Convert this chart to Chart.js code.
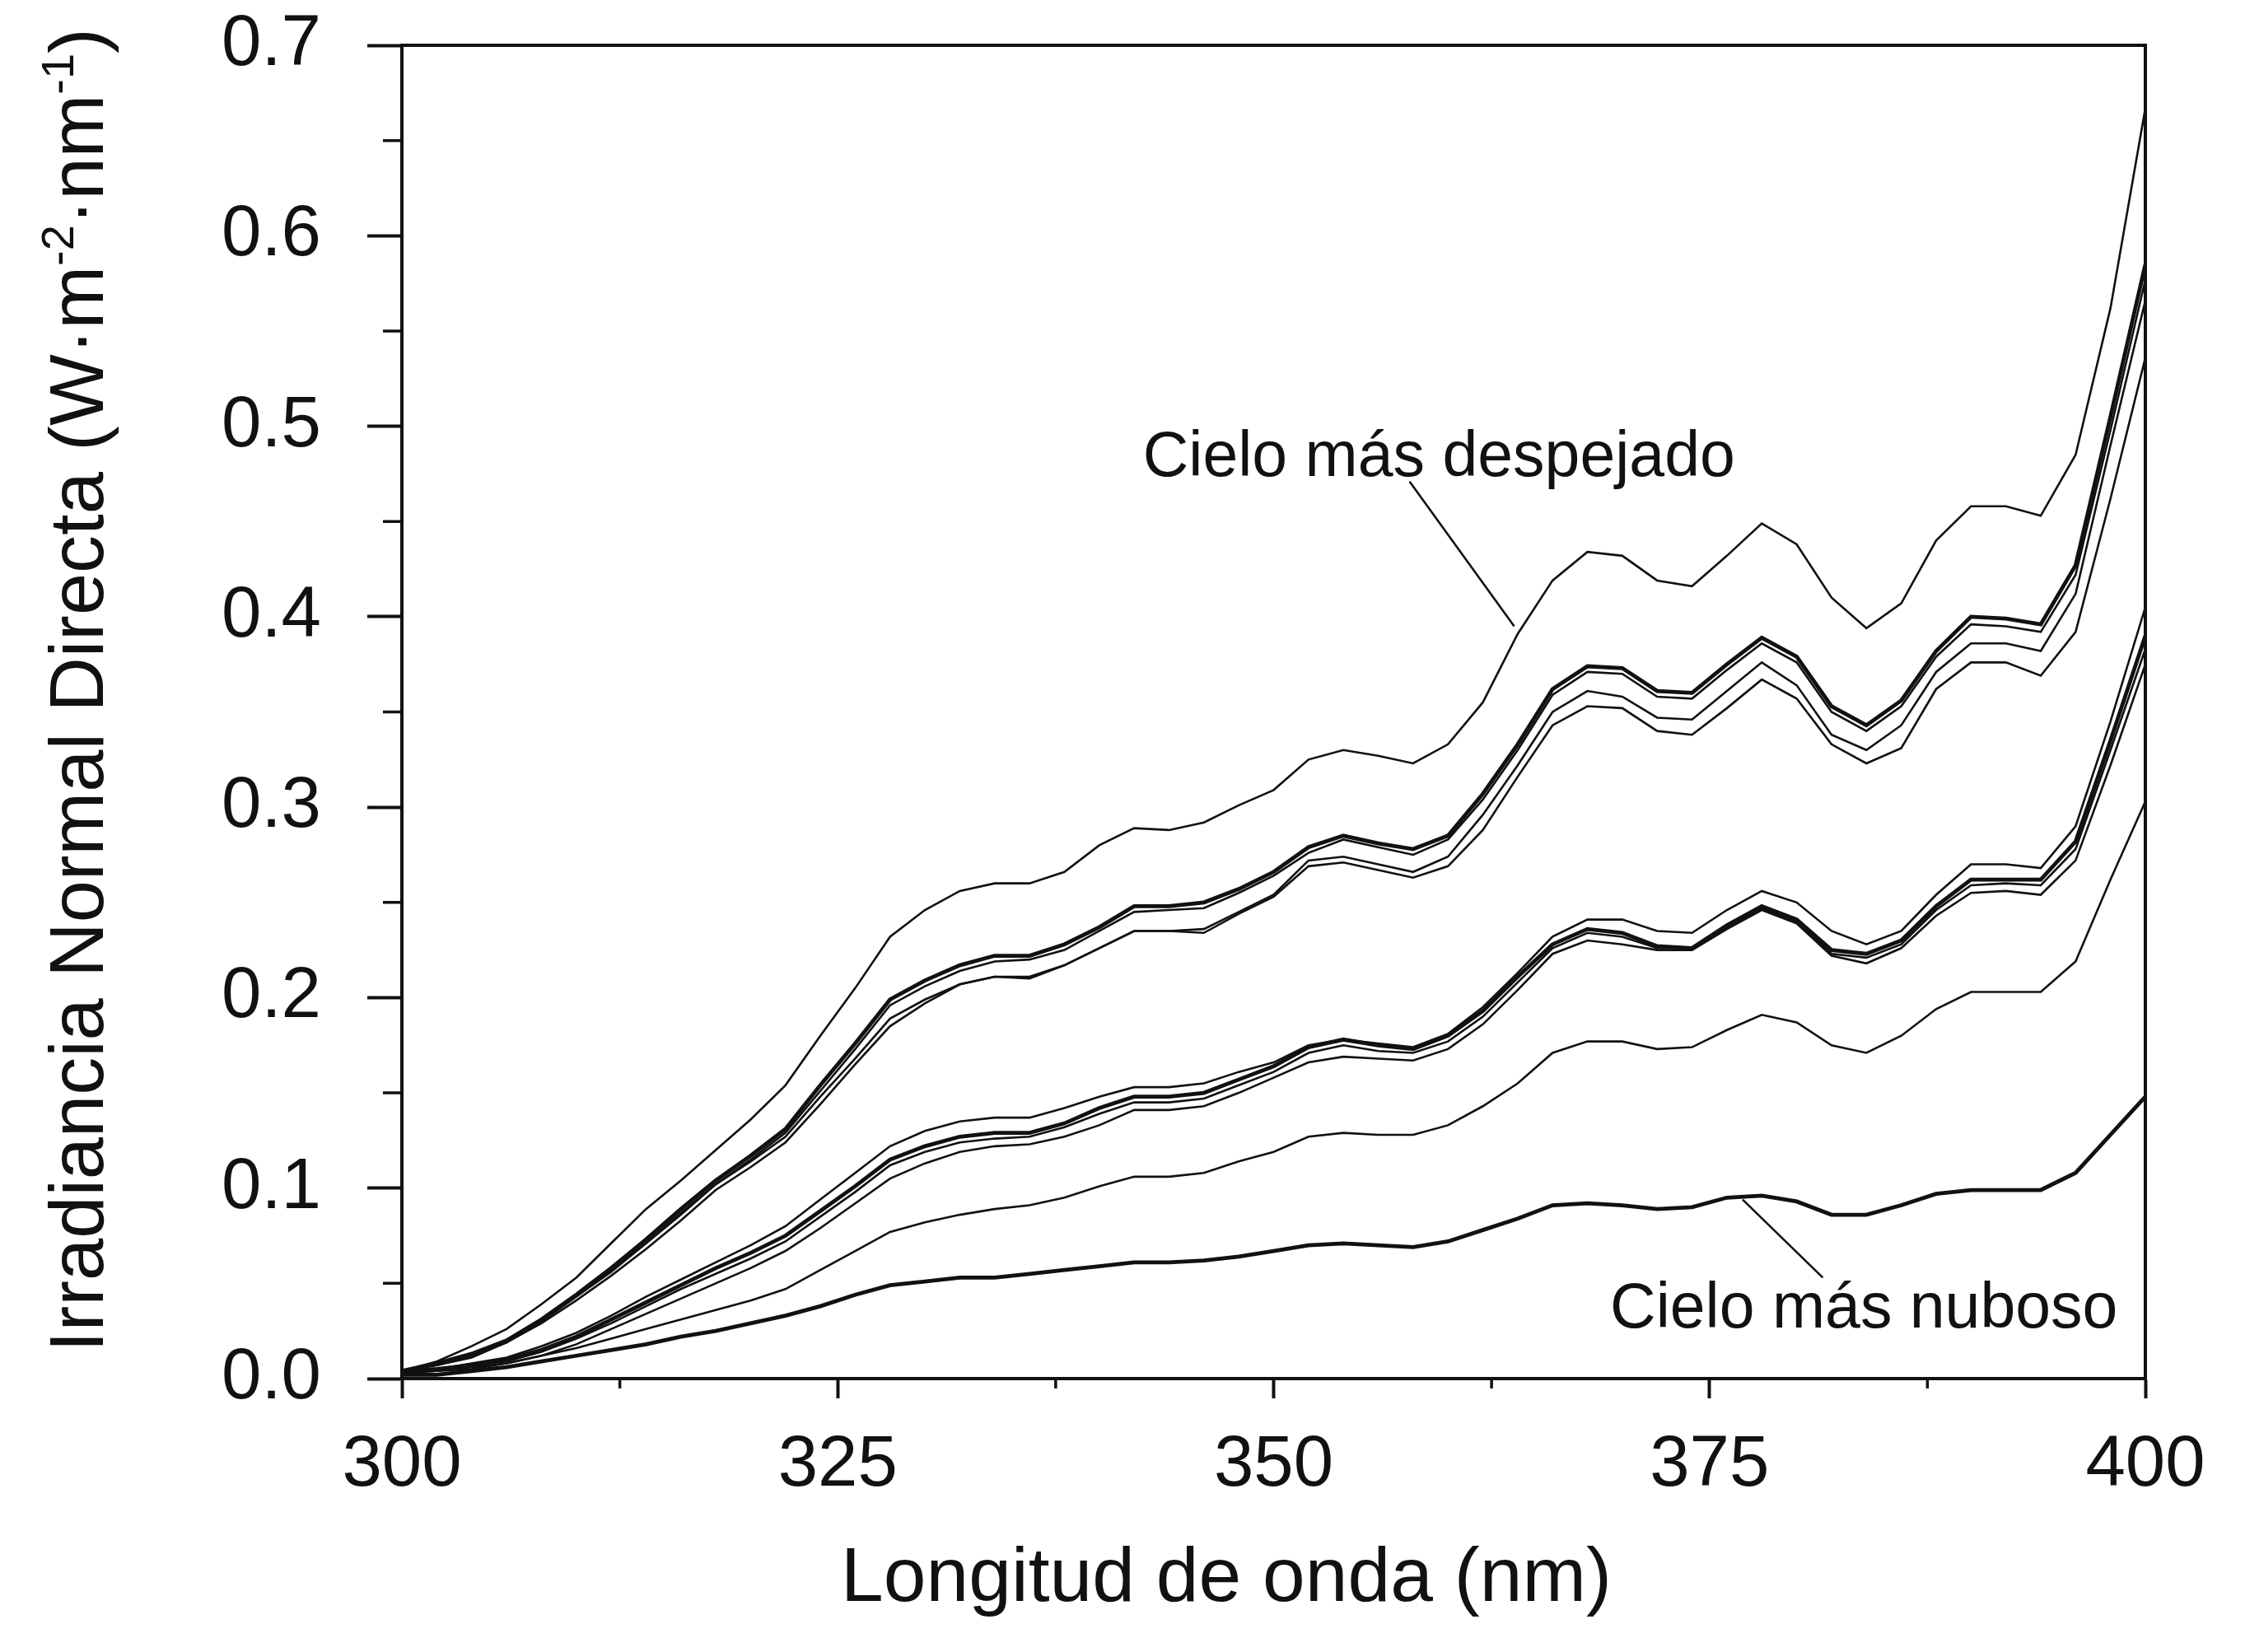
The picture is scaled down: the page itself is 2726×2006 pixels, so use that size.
<!DOCTYPE html>
<html>
<head>
<meta charset="utf-8">
<title>Irradiancia Normal Directa</title>
<script src="https://cdn.jsdelivr.net/npm/chart.js@4.4.0/dist/chart.umd.min.js"></script>
<style>
    html, body { margin: 0; padding: 0; background: #ffffff; }
    #wrap { width: 2726px; height: 2006px; }
</style>
</head>
<body>
<div id="wrap"><canvas id="chart" width="2726" height="2006"></canvas></div>
<script>
    'use strict';

    // ----------------------------
    // Data
    // ----------------------------

    // wavelength grid, nm
    var wavelengths = [
        300, 302, 304, 306, 308, 310, 312, 314, 316, 318,
        320, 322, 324, 326, 328, 330, 332, 334, 336, 338,
        340, 342, 344, 346, 348, 350, 352, 354, 356, 358,
        360, 362, 364, 366, 368, 370, 372, 374, 376, 378,
        380, 382, 384, 386, 388, 390, 392, 394, 396, 398,
        400
    ];

    // "Cielo más despejado"
    var skyClearest = [
        0.004, 0.009, 0.017, 0.026, 0.039, 0.053, 0.071, 0.089, 0.104, 0.120,
        0.136, 0.154, 0.180, 0.205, 0.232, 0.246, 0.256, 0.260, 0.260, 0.266,
        0.280, 0.289, 0.288, 0.292, 0.301, 0.309, 0.325, 0.330, 0.327, 0.323,
        0.333, 0.355, 0.391, 0.419, 0.434, 0.432, 0.419, 0.416, 0.432, 0.449,
        0.438, 0.410, 0.394, 0.407, 0.440, 0.458, 0.458, 0.453, 0.485, 0.562,
        0.667
    ];

    // upper bundle
    var skyHigh1 = [
        0.004, 0.008, 0.013, 0.020, 0.031, 0.044, 0.058, 0.073, 0.089, 0.104,
        0.117, 0.131, 0.154, 0.176, 0.199, 0.209, 0.217, 0.222, 0.222, 0.228,
        0.237, 0.248, 0.248, 0.250, 0.257, 0.266, 0.279, 0.285, 0.281, 0.278,
        0.285, 0.307, 0.333, 0.362, 0.374, 0.373, 0.361, 0.360, 0.375, 0.389,
        0.379, 0.353, 0.343, 0.356, 0.382, 0.400, 0.399, 0.396, 0.427, 0.505,
        0.585
    ];
    var skyHigh2 = [
        0.004, 0.008, 0.012, 0.019, 0.030, 0.043, 0.057, 0.071, 0.087, 0.102,
        0.115, 0.129, 0.151, 0.173, 0.196, 0.206, 0.214, 0.219, 0.220, 0.225,
        0.235, 0.245, 0.246, 0.247, 0.255, 0.264, 0.276, 0.283, 0.279, 0.275,
        0.283, 0.304, 0.330, 0.359, 0.371, 0.370, 0.358, 0.357, 0.372, 0.386,
        0.376, 0.350, 0.340, 0.353, 0.379, 0.396, 0.395, 0.392, 0.422, 0.498,
        0.577
    ];
    var skyHigh3 = [
        0.004, 0.007, 0.012, 0.019, 0.030, 0.043, 0.056, 0.071, 0.086, 0.102,
        0.114, 0.127, 0.148, 0.168, 0.189, 0.199, 0.207, 0.211, 0.211, 0.217,
        0.226, 0.235, 0.235, 0.236, 0.245, 0.254, 0.272, 0.274, 0.270, 0.266,
        0.274, 0.296, 0.322, 0.350, 0.361, 0.358, 0.347, 0.346, 0.361, 0.376,
        0.364, 0.338, 0.330, 0.343, 0.371, 0.386, 0.386, 0.382, 0.412, 0.490,
        0.566
    ];
    var skyHigh4 = [
        0.004, 0.007, 0.011, 0.019, 0.029, 0.041, 0.054, 0.068, 0.083, 0.099,
        0.111, 0.124, 0.144, 0.165, 0.185, 0.197, 0.207, 0.211, 0.210, 0.217,
        0.226, 0.235, 0.235, 0.234, 0.244, 0.253, 0.269, 0.271, 0.267, 0.263,
        0.269, 0.288, 0.316, 0.343, 0.353, 0.352, 0.340, 0.338, 0.352, 0.367,
        0.357, 0.333, 0.323, 0.331, 0.362, 0.376, 0.376, 0.369, 0.392, 0.462,
        0.536
    ];

    // middle bundle
    var skyMid1 = [
        0.004, 0.005, 0.008, 0.011, 0.017, 0.024, 0.033, 0.043, 0.052, 0.061,
        0.070, 0.080, 0.094, 0.108, 0.122, 0.130, 0.135, 0.137, 0.137, 0.142,
        0.148, 0.153, 0.153, 0.155, 0.161, 0.166, 0.175, 0.178, 0.176, 0.174,
        0.181, 0.195, 0.213, 0.232, 0.241, 0.241, 0.235, 0.234, 0.246, 0.256,
        0.250, 0.235, 0.228, 0.235, 0.254, 0.270, 0.270, 0.268, 0.290, 0.345,
        0.405
    ];
    var skyMid2 = [
        0.004, 0.005, 0.007, 0.010, 0.015, 0.022, 0.031, 0.040, 0.049, 0.058,
        0.066, 0.075, 0.088, 0.101, 0.115, 0.122, 0.127, 0.129, 0.129, 0.134,
        0.142, 0.148, 0.148, 0.150, 0.157, 0.164, 0.174, 0.178, 0.175, 0.173,
        0.180, 0.193, 0.211, 0.228, 0.236, 0.234, 0.227, 0.226, 0.238, 0.248,
        0.241, 0.225, 0.223, 0.230, 0.248, 0.262, 0.262, 0.262, 0.282, 0.335,
        0.390
    ];
    var skyMid3 = [
        0.004, 0.005, 0.007, 0.009, 0.014, 0.021, 0.029, 0.038, 0.047, 0.055,
        0.063, 0.072, 0.085, 0.098, 0.112, 0.119, 0.124, 0.126, 0.127, 0.132,
        0.139, 0.145, 0.145, 0.147, 0.154, 0.161, 0.171, 0.175, 0.172, 0.171,
        0.177, 0.190, 0.208, 0.226, 0.234, 0.232, 0.226, 0.226, 0.237, 0.247,
        0.240, 0.223, 0.221, 0.228, 0.246, 0.259, 0.260, 0.259, 0.278, 0.330,
        0.383
    ];
    var skyMid4 = [
        0.003, 0.004, 0.006, 0.008, 0.012, 0.018, 0.026, 0.034, 0.042, 0.050,
        0.058, 0.067, 0.079, 0.092, 0.105, 0.113, 0.119, 0.122, 0.123, 0.127,
        0.133, 0.141, 0.141, 0.143, 0.150, 0.158, 0.166, 0.169, 0.168, 0.167,
        0.173, 0.186, 0.204, 0.223, 0.230, 0.228, 0.225, 0.225, 0.236, 0.246,
        0.239, 0.222, 0.218, 0.226, 0.243, 0.255, 0.256, 0.254, 0.272, 0.322,
        0.375
    ];

    var skyLow = [
        0.003, 0.004, 0.005, 0.008, 0.012, 0.016, 0.021, 0.026, 0.031, 0.036,
        0.041, 0.047, 0.057, 0.067, 0.077, 0.082, 0.086, 0.089, 0.091, 0.095,
        0.101, 0.106, 0.106, 0.108, 0.114, 0.119, 0.127, 0.129, 0.128, 0.128,
        0.133, 0.143, 0.155, 0.171, 0.177, 0.177, 0.173, 0.174, 0.183, 0.191,
        0.187, 0.175, 0.171, 0.180, 0.194, 0.203, 0.203, 0.203, 0.219, 0.262,
        0.303
    ];

    // "Cielo más nuboso"
    var skyCloudiest = [
        0.002, 0.002, 0.004, 0.006, 0.009, 0.012, 0.015, 0.018, 0.022, 0.025,
        0.029, 0.033, 0.038, 0.044, 0.049, 0.051, 0.053, 0.053, 0.055, 0.057,
        0.059, 0.061, 0.061, 0.062, 0.064, 0.067, 0.070, 0.071, 0.070, 0.069,
        0.072, 0.078, 0.084, 0.091, 0.092, 0.091, 0.089, 0.090, 0.095, 0.096,
        0.093, 0.086, 0.086, 0.091, 0.097, 0.099, 0.099, 0.099, 0.108, 0.128,
        0.148
    ];

    // minor tick positions (no labels)
    var xMinorTicks = [312.5, 337.5, 362.5, 387.5];
    var yMinorTicks = [0.05, 0.15, 0.25, 0.35, 0.45, 0.55, 0.65];

    // ----------------------------
    // Styling
    // ----------------------------

    var INK = '#111111';
    var FONT = '"Liberation Sans", Arial, Helvetica, sans-serif';
    var THIN = 2.6;
    var THICK = 4.8;

    // annotations, anchored in data units
    var notes = [
        { text: 'Cielo más despejado', at: [342.5, 0.474], from: [357.8, 0.471], to: [363.8, 0.395] },
        { text: 'Cielo más nuboso', at: [369.3, 0.027], from: [376.9, 0.094], to: [381.5, 0.053] }
    ];

    function series(values, width) {
        return {
            data: values.map(function (v, i) { return { x: wavelengths[i], y: v }; }),
            borderColor: INK,
            borderWidth: width,
            pointRadius: 0,
            tension: 0,
            fill: false
        };
    }

    /**
     * Frame, minor ticks, axis titles and the two callouts
     */
    var decorPlugin = {
        id: 'decor',
        afterDraw: function (chart) {
            var ctx = chart.ctx;
            var area = chart.chartArea;
            var xs = chart.scales.x;
            var ys = chart.scales.y;

            ctx.save();
            ctx.strokeStyle = INK;
            ctx.fillStyle = INK;
            ctx.lineCap = 'butt';

            // top and right border
            ctx.lineWidth = 4;
            ctx.beginPath();
            ctx.moveTo(area.left - 2, area.top);
            ctx.lineTo(area.right, area.top);
            ctx.lineTo(area.right, area.bottom + 2);
            ctx.stroke();

            // minor ticks
            ctx.lineWidth = 3.5;
            ctx.beginPath();
            yMinorTicks.forEach(function (v) {
                var py = ys.getPixelForValue(v);
                ctx.moveTo(area.left - 23, py);
                ctx.lineTo(area.left, py);
            });
            xMinorTicks.forEach(function (v) {
                var px = xs.getPixelForValue(v);
                ctx.moveTo(px, area.bottom);
                ctx.lineTo(px, area.bottom + 12);
            });
            ctx.stroke();

            // callouts
            ctx.font = '77px ' + FONT;
            ctx.textAlign = 'left';
            ctx.textBaseline = 'alphabetic';
            ctx.lineWidth = 2.6;
            notes.forEach(function (n) {
                ctx.fillText(n.text, xs.getPixelForValue(n.at[0]), ys.getPixelForValue(n.at[1]));
                ctx.beginPath();
                ctx.moveTo(xs.getPixelForValue(n.from[0]), ys.getPixelForValue(n.from[1]));
                ctx.lineTo(xs.getPixelForValue(n.to[0]), ys.getPixelForValue(n.to[1]));
                ctx.stroke();
            });

            // x title
            ctx.font = '93px ' + FONT;
            ctx.textAlign = 'center';
            ctx.fillText('Longitud de onda (nm)', 1489, 1944);

            // y title, with superscripts
            var parts = [
                { t: 'Irradiancia Normal Directa (W·m', sup: false },
                { t: '-2', sup: true },
                { t: '·nm', sup: false },
                { t: '-1', sup: true },
                { t: ')', sup: false }
            ];
            var big = '92px ' + FONT;
            var small = '56px ' + FONT;
            var total = 0;
            parts.forEach(function (p) {
                ctx.font = p.sup ? small : big;
                p.w = ctx.measureText(p.t).width;
                total += p.w;
            });
            ctx.translate(125, 838);
            ctx.rotate(-Math.PI / 2);
            ctx.textAlign = 'left';
            var cx = -total / 2;
            parts.forEach(function (p) {
                ctx.font = p.sup ? small : big;
                ctx.fillText(p.t, cx, p.sup ? -36 : 0);
                cx += p.w;
            });

            ctx.restore();
        }
    };

    var chart = new Chart(document.getElementById('chart').getContext('2d'), {
        type: 'line',
        data: {
            datasets: [
                series(skyClearest, THIN),
                series(skyHigh1, THICK),
                series(skyHigh2, THIN),
                series(skyHigh3, THIN),
                series(skyHigh4, THIN),
                series(skyMid1, THIN),
                series(skyMid2, THICK),
                series(skyMid3, THIN),
                series(skyMid4, THIN),
                series(skyLow, THIN),
                series(skyCloudiest, THICK)
            ]
        },
        options: {
            responsive: false,
            animation: false,
            events: [],
            layout: { padding: { top: 55, right: 121, bottom: 0, left: 0 } },
            plugins: {
                legend: { display: false },
                tooltip: { enabled: false }
            },
            scales: {
                x: {
                    type: 'linear',
                    min: 300,
                    max: 400,
                    afterFit: function (scale) { scale.height = 332; },
                    border: { display: true, color: INK, width: 4 },
                    grid: { drawOnChartArea: false, drawTicks: true, tickLength: 24, tickWidth: 4, tickColor: INK },
                    ticks: {
                        stepSize: 25,
                        padding: 30,
                        color: INK,
                        font: { family: FONT, size: 87 },
                        maxRotation: 0,
                        callback: function (v) { return String(v); }
                    }
                },
                y: {
                    min: 0,
                    max: 0.7,
                    afterFit: function (scale) {
                        scale.width = 488;
                        // the label gap would otherwise be added above and below the plot
                        scale.paddingTop = 0;
                        scale.paddingBottom = 0;
                    },
                    border: { display: true, color: INK, width: 4 },
                    grid: { drawOnChartArea: false, drawTicks: true, tickLength: 42, tickWidth: 4, tickColor: INK },
                    ticks: {
                        stepSize: 0.1,
                        padding: 56,
                        color: INK,
                        font: { family: FONT, size: 87 },
                        callback: function (v) { return Number(v).toFixed(1); }
                    }
                }
            }
        },
        plugins: [decorPlugin]
    });
</script>
</body>
</html>
